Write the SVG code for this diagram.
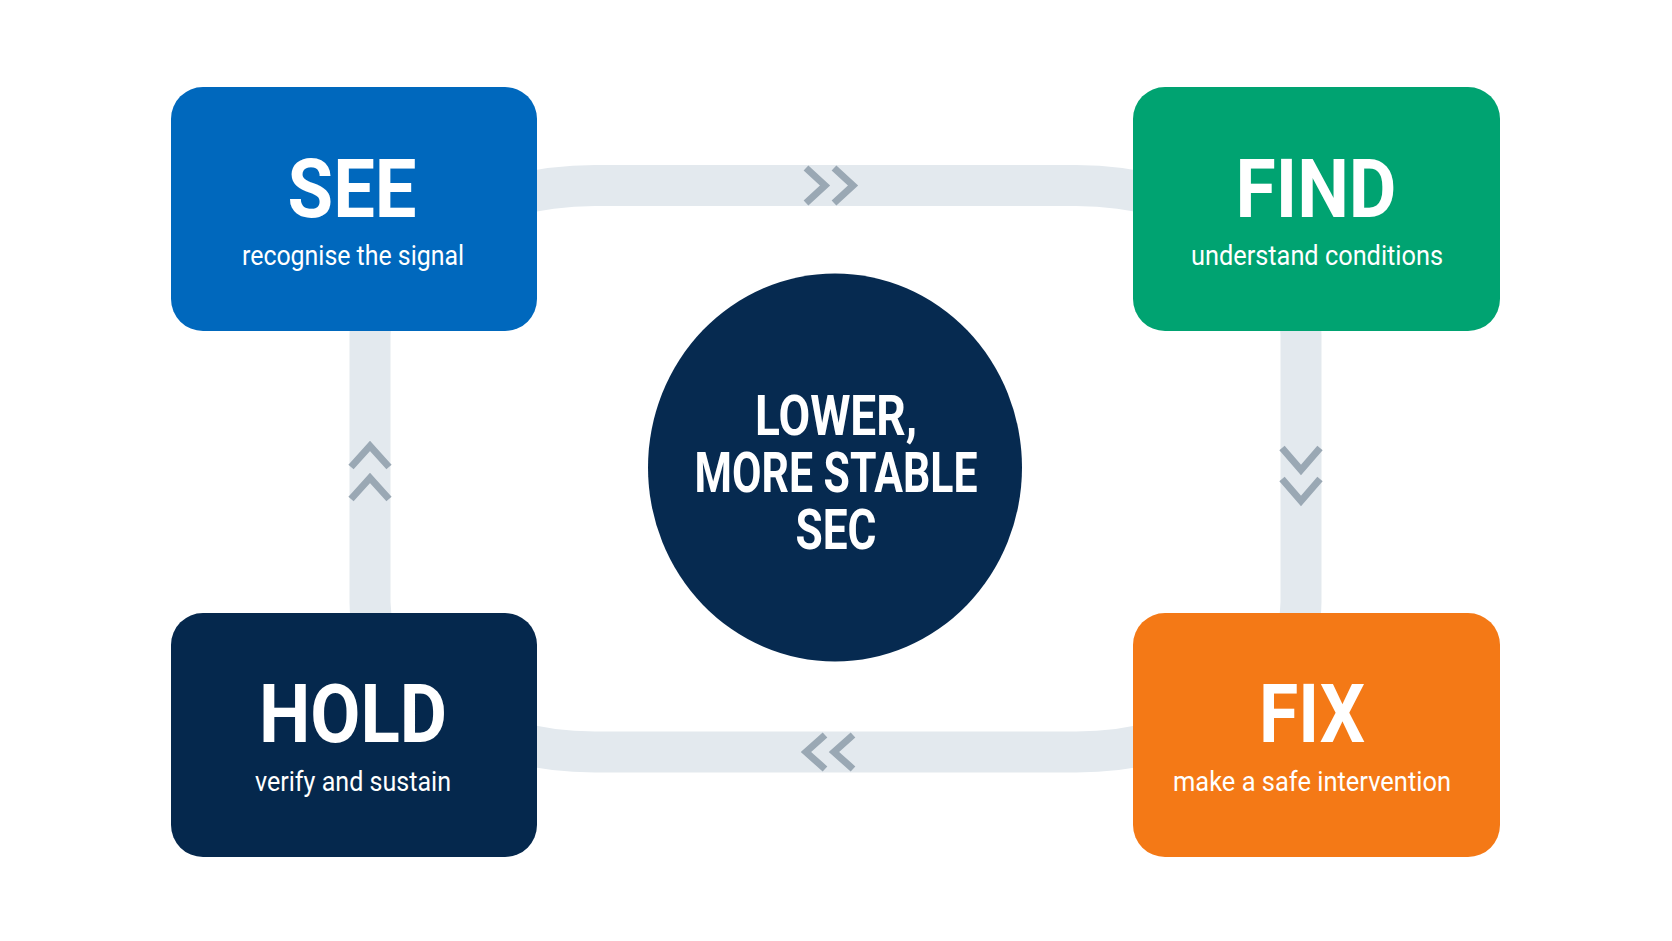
<svg xmlns="http://www.w3.org/2000/svg" width="1672" height="941" viewBox="0 0 1672 941">
  <style>
    .band { fill: none; stroke: #e3e9ee; stroke-width: 41; stroke-linecap: butt; }
    .chev { fill: none; stroke: #9aa8b4; stroke-width: 7; stroke-linejoin: miter; stroke-linecap: butt; }
    .box { stroke: none; }
    .title { font-family: Roboto, "Liberation Sans", sans-serif; font-weight: 700; font-size: 82px; fill: #ffffff; text-anchor: middle; }
    .sub { font-family: Roboto, "Liberation Sans", sans-serif; font-weight: 400; font-size: 27px; fill: #ffffff; text-anchor: middle; }
    .hub { font-family: Roboto, "Liberation Sans", sans-serif; font-weight: 700; font-size: 56px; fill: #ffffff; text-anchor: middle; }
  </style>
  <rect width="1672" height="941" fill="#ffffff"/>
  <g id="connectors">
    <path id="see-find" class="band" d="M435.9,229.4 A225,150 0 0 1 595,185.5 L1076,185.5 A225,150 0 0 1 1235.1,229.4"/>
    <path id="find-fix" class="band" d="M1235.1,229.4 A225,150 0 0 1 1301,335.5 L1301,602 A225,150 0 0 1 1235.1,708.1"/>
    <path id="fix-hold" class="band" d="M1235.1,708.1 A225,150 0 0 1 1076,752 L595,752 A225,150 0 0 1 435.9,708.1"/>
    <path id="hold-see" class="band" d="M435.9,708.1 A225,150 0 0 1 370,602 L370,335.5 A225,150 0 0 1 435.9,229.4"/>
    <g id="arrows">
      <polyline class="chev" points="806,168 825,185.5 806,203"/>
      <polyline class="chev" points="834,168 853,185.5 834,203"/>
      <polyline class="chev" points="1282,448 1301,470 1320,448"/>
      <polyline class="chev" points="1282,479 1301,501 1320,479"/>
      <polyline class="chev" points="825,735 806,752 825,769"/>
      <polyline class="chev" points="853,735 834,752 853,769"/>
      <polyline class="chev" points="351,467 370,446 389,467"/>
      <polyline class="chev" points="351,499 370,478 389,499"/>
    </g>
  </g>
  <g id="node-see">
    <rect class="box" x="171" y="87" width="366" height="244" rx="32" fill="#0068bd"/>
    <text class="title" x="352" y="217" textLength="129" lengthAdjust="spacingAndGlyphs">SEE</text>
    <text class="sub" x="353" y="265" textLength="222" lengthAdjust="spacingAndGlyphs">recognise the signal</text>
  </g>
  <g id="node-find">
    <rect class="box" x="1133" y="87" width="367" height="244" rx="32" fill="#00a371"/>
    <text class="title" x="1316" y="217" textLength="161" lengthAdjust="spacingAndGlyphs">FIND</text>
    <text class="sub" x="1317" y="265" textLength="252" lengthAdjust="spacingAndGlyphs">understand conditions</text>
  </g>
  <g id="node-hold">
    <rect class="box" x="171" y="613" width="366" height="244" rx="32" fill="#05284d"/>
    <text class="title" x="353" y="742" textLength="188" lengthAdjust="spacingAndGlyphs">HOLD</text>
    <text class="sub" x="353" y="791" textLength="196" lengthAdjust="spacingAndGlyphs">verify and sustain</text>
  </g>
  <g id="node-fix">
    <rect class="box" x="1133" y="613" width="367" height="244" rx="32" fill="#f47916"/>
    <text class="title" x="1312" y="742" textLength="106" lengthAdjust="spacingAndGlyphs">FIX</text>
    <text class="sub" x="1312" y="791" textLength="278" lengthAdjust="spacingAndGlyphs">make a safe intervention</text>
  </g>
  <g id="node-hub">
    <ellipse cx="835" cy="467.5" rx="187" ry="194" fill="#062a50"/>
    <text class="hub" x="836" y="435" textLength="162" lengthAdjust="spacingAndGlyphs">LOWER,</text>
    <text class="hub" x="836" y="492" textLength="283" lengthAdjust="spacingAndGlyphs">MORE STABLE</text>
    <text class="hub" x="836" y="549" textLength="81" lengthAdjust="spacingAndGlyphs">SEC</text>
  </g>
</svg>
